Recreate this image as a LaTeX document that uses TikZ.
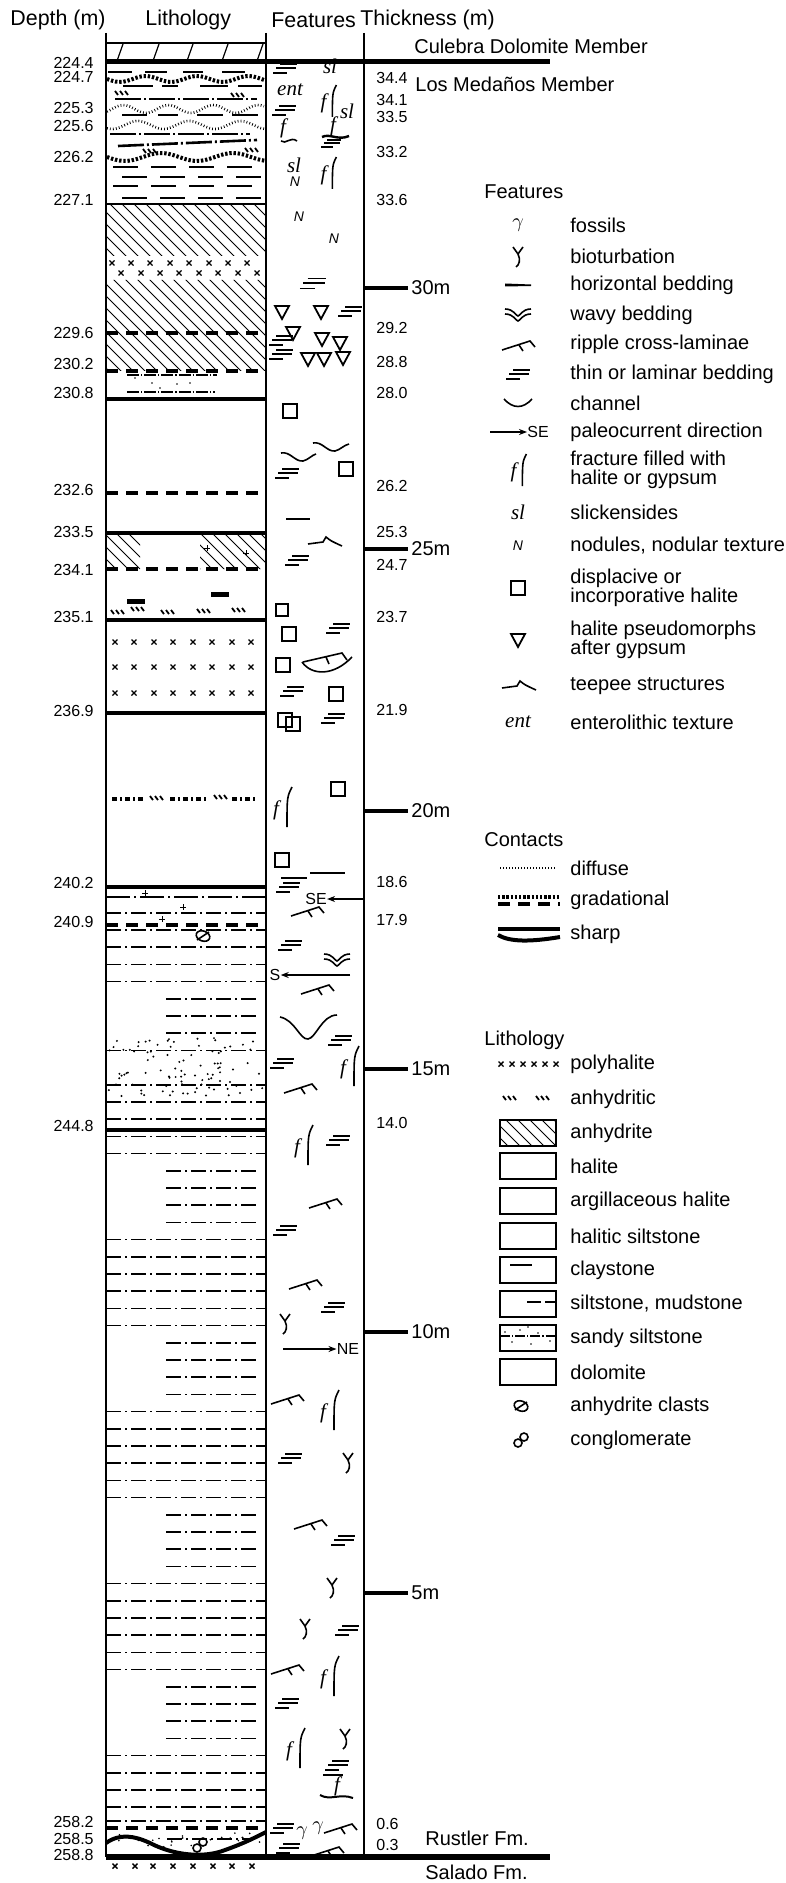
\documentclass[tikz,border=0pt]{standalone}
\usepackage{fontspec}
\setmainfont{Liberation Sans}
\newfontfamily\symfont{Liberation Serif}
\usetikzlibrary{arrows.meta}

\begin{document}
\begin{tikzpicture}[x=0.5pt,y=-0.5pt,
		lbl/.style={anchor=east,inner sep=0pt,font=\fontsize{8}{9}\selectfont},
		thk/.style={anchor=west,inner sep=0pt,font=\fontsize{8}{9}\selectfont},
		txt/.style={anchor=west,inner sep=0pt,align=left,font=\fontsize{10}{9.6}\selectfont},
		hdr/.style={anchor=west,inner sep=0pt,font=\fontsize{10.7}{12}\selectfont},
		sym/.style={inner sep=0pt,font=\symfont\itshape\fontsize{10.5}{11}\selectfont},
		nod/.style={inner sep=0pt,font=\itshape\fontsize{7}{8}\selectfont},
		dir/.style={inner sep=0pt,font=\fontsize{8}{9}\selectfont},
		sharpln/.style={line width=1.6pt},
		gradln/.style={line width=1.7pt,dash pattern=on 6pt off 4pt},
		gradwave/.style={line width=2pt,dash pattern=on 1.2pt off 0.9pt},
		diffwave/.style={line width=1.3pt,dash pattern=on 0.4pt off 1.1pt},
		siltln/.style={line width=0.8pt,dash pattern=on 7.5pt off 2pt on 1pt off 2pt},
		hatch/.style={line width=0.5pt},
		symln/.style={line width=0.8pt},
		thinbed/.pic={\draw[line width=0.9pt] (-5,-4)--(12,-4) (-9,0)--(11,0) (-12,5)--(2,5);},
		ripple/.pic={\draw[symln] (-16,6)--(12,-3)--(17,3) (1,1)--(5,7);},
		teepee/.pic={\draw[symln] (-18,2)--(-3,0)--(0,-5) .. controls (5,-1) .. (16,4);},
		channel/.pic={\draw[symln] (-14,-4) .. controls (-5,6) and (5,6) .. (14,-4);},
		wavybed/.pic={\draw[symln] (-13,-6) .. controls (-4,-6) and (-2,1) .. (0,1) .. controls (2,1) and (4,-6) .. (13,-6) (-13,-1) .. controls (-4,-1) and (-2,6) .. (0,6) .. controls (2,6) and (4,-1) .. (13,-1);},
		bioturb/.pic={\draw[symln] (-5,-9)--(0,-2)--(5,-9) (0,-2) .. controls (3,4) and (1,9) .. (-2,11);},
		fracture/.pic={\node[sym] at (-8,3) {f}; \draw[symln] (8,-20) .. controls (3,-10) .. (3,20);},
		halbox/.pic={\draw[line width=1pt] (-7,-7) rectangle (7,7);},
		pseudo/.pic={\draw[line width=0.9pt] (-7,-6)--(7,-6)--(0,7)--cycle;},
		fossil/.pic={\node[inner sep=0pt,font=\fontsize{10}{10}\selectfont] {$\gamma$};},
		horbed/.pic={\fill (-13,-1.5) -- (13,-0.5) -- (13,1) -- (-13,1.5) -- cycle;},
		polyx/.pic={\draw[line width=0.7pt] (-2.5,-2.5)--(2.5,2.5) (-2.5,2.5)--(2.5,-2.5);},
		anhy/.pic={\draw[line width=0.9pt] (-7,-2)--(-4,2) (-2,-2)--(1,2) (3,-2)--(6,2);},
		clast/.pic={\draw[symln,rotate=-20] (0,0) ellipse (7 and 5); \draw[symln] (-6,4)--(6,-4);},
		conglom/.pic={\draw[symln] (-3,3) circle (4) (3,-3) circle (4);},
		plusm/.pic={\draw[line width=0.5pt] (-3,0)--(3,0) (0,-3)--(0,3);}
	]
		\useasboundingbox (0,0) rectangle (786,1883);
		\node[hdr] (hdepth) at (10,20) {Depth (m)};
		\node[hdr] (hlith) at (145,20) {Lithology};
		\node[hdr] (hfeat) at (271,20) {Features};
		\node[hdr] (hthick) at (360,20) {Thickness (m)};
		\draw[line width=1pt] (106,33) -- (106,1857) (266,33) -- (266,1857);
		\draw[line width=0.8pt] (364,33) -- (364,1857);

		\draw[line width=0.8pt] (106,43) -- (266,43);
		\foreach \x in {117,153,187,222,257} \draw[line width=0.6pt] (\x,61) -- ++(6,-17);
		\draw[line width=2.5pt] (106,62) -- (550,62);
		\node[txt] (culebra) at (414,46) {Culebra Dolomite Member};
		\node[txt] (medanos) at (415,84) {Los Medaños Member};

		\draw[line width=1.4pt] (108,72)--(132,72) (145,72)--(167,72) (183,72)--(203,72) (222,72)--(245,72);
		\draw[gradwave] plot[domain=107:265,samples=40] (\x,{79+3*sin((\x-107)*7)});
		\draw[line width=1.4pt] (123,86)--(153,86) (162,86)--(178,86) (200,86)--(228,86) (238,86)--(262,86);
		\pic at (122,93) {anhy};
		\pic at (238,95) {anhy};
		\draw[line width=1.3pt,dash pattern=on 13pt off 1.5pt on 1pt off 1.5pt] (115,99) -- (257,99);
		\draw[diffwave] plot[domain=107:264,samples=50] (\x,{109-4*sin((\x-112)*8)});
		\draw[line width=1.4pt] (122,115)--(147,115) (158,115)--(178,115) (197,115)--(223,115) (232,115)--(258,115);
		\draw[diffwave] plot[domain=107:264,samples=50] (\x,{125-4*sin((\x-125)*7)});
		\draw[line width=1.3pt,dash pattern=on 13pt off 1.5pt on 1pt off 1.5pt] (110,134) -- (250,134);
		\draw[line width=1.3pt,dash pattern=on 13pt off 1.5pt on 1pt off 1.5pt] (118,146) -- (257,140);
		\pic at (150,151) {anhy};
		\pic at (252,150) {anhy};
		\draw[gradwave] plot[domain=107:265,samples=40] (\x,{157+4*sin((\x-107)*5)});
		\foreach \y/\o in {167/0,177/1,186/0,198/1}
			\foreach \x in {0,1,2,3} \draw[line width=1.4pt] ({113+\x*38+\o*9},\y) -- ++(25,0);
		\draw[line width=0.8pt] (106,204) -- (266,204);

		\begin{scope}
			\clip (106,204) rectangle (266,256) (106,280) rectangle (266,371);
			\foreach \i in {0,...,28} \draw[hatch] ({\i*12-70},204) -- ++(170,170);
		\end{scope}
		\foreach \x in {112,131,150,170,189,209,228,247} \pic at (\x,263) {polyx};
		\foreach \x in {121,141,160,179,199,218,238,257} \pic at (\x,273) {polyx};
		\draw[gradln] (106,333) -- (266,333);
		\draw[gradln] (106,371) -- (266,371);
		\draw[line width=0.7pt,dash pattern=on 6pt off 1pt on 0.6pt off 1pt] (127,375) -- (217,375) (127,392) -- (215,392);
		\foreach \x/\y in {135/378,152/383,177/384,190/383,160/388} \fill (\x,\y) circle (0.8);
		\draw[sharpln] (106,399) -- (266,399);
		\draw[gradln] (106,493) -- (266,493);
		\draw[sharpln] (106,533) -- (266,533);
		\begin{scope}
			\clip (106,533) rectangle (140,569) (200,533) rectangle (266,569);
			\foreach \i in {0,...,26} \draw[hatch] ({\i*12-40},533) -- ++(40,40);
		\end{scope}
		\pic at (207,548) {plusm};
		\pic at (246,553) {plusm};
		\draw[gradln] (106,569) -- (266,569);
		\draw[line width=2.5pt] (127,601) -- (145,601) (211,594) -- (229,594);
		\foreach \x/\y in {118/612,138/609,168/612,204/611,239/610} \pic at (\x,\y) {anhy};
		\draw[sharpln] (106,620) -- (266,620);
		\foreach \y in {642,667,693}
			\foreach \x in {115,134,154,173,193,212,232,251} \pic at (\x,\y) {polyx};
		\draw[sharpln] (106,713) -- (266,713);
		\draw[line width=1.6pt,dash pattern=on 2.5pt off 1.5pt on 1pt off 1.5pt] (112,799) -- (145,799) (170,799) -- (208,799) (232,799) -- (258,799);
		\pic at (157,798) {anhy};
		\pic at (221,797) {anhy};
		\draw[sharpln] (106,887) -- (266,887);

		\draw[line width=0.6pt,dash pattern=on 12pt off 2pt on 1pt off 2pt] (106,897) -- (266,897);
		\draw[siltln] (106,913) -- (266,913);
		\draw[gradln] (106,925) -- (266,925);
		\pic at (145,893) {plusm};
		\pic at (183,907) {plusm};
		\pic at (162,919) {plusm};
		\pic at (203,936) {clast};
		\foreach \k in {0,1,2,3,7,9,10,11,12,13,18,19,20,21,22,23,28,29,30,31,32,33,38,39,40,41,42,43,48,49,50,51}
			\draw[siltln] (106,{930+17.2*\k}) -- (266,{930+17.2*\k});
		\foreach \k in {4,5,6,14,15,16,17,24,25,26,27,34,35,36,37,44,45,46,47}
			\draw[siltln] (166,{930+17.2*\k}) -- (256,{930+17.2*\k});
		\pgfmathsetseed{5}
		\foreach \i in {1,...,95} \fill ({108+156*rnd},{1038+58*rnd}) circle (1.1);
		\draw[sharpln] (106,1130) -- (266,1130);

		\draw[siltln] (106,1821) -- (266,1821);
		\draw[gradln] (106,1828) -- (266,1828);
		\draw[siltln] (167,1839) -- (250,1839);
		\pgfmathsetseed{9}
		\foreach \i in {1,...,25} \fill ({110+150*rnd},{1833+14*rnd}) circle (0.9);
		\draw[line width=2pt] (106,1843) .. controls (120,1833) and (135,1836) .. (150,1843) .. controls (175,1856) and (205,1858) .. (225,1850) .. controls (245,1843) and (258,1836) .. (266,1832);
		\pic at (200,1845) {conglom};
		\draw[line width=2.8pt] (106,1857) -- (550,1857);
		\foreach \x in {115,135,153,173,193,213,232,252} \pic at (\x,1866) {polyx};
		\node[txt] (rustler) at (425,1838) {Rustler Fm.};
		\node[txt] (salado) at (425,1872) {Salado Fm.};

		\foreach \t/\y [count=\n] in {224.4/63,224.7/77,225.3/108,225.6/126,226.2/157,227.1/200,229.6/333,230.2/364,230.8/393,232.6/490,233.5/532,234.1/570,235.1/617,236.9/711,240.2/883,240.9/922,244.8/1126,258.2/1822,258.5/1839,258.8/1855}
			\node[lbl] (dep\n) at (94,\y) {\t};
		\foreach \t/\y [count=\n] in {34.4/78,34.1/100,33.5/117,33.2/152,33.6/200,29.2/328,28.8/362,28.0/393,26.2/486,25.3/532,24.7/565,23.7/617,21.9/710,18.6/882,17.9/920,14.0/1123,0.6/1824,0.3/1845}
			\node[thk] (thk\n) at (376,\y) {\t};
		\foreach \m/\y in {30/288,25/549,20/811,15/1069,10/1332,5/1593} {
			\draw[line width=2pt] (364,\y) -- (408,\y);
			\node[txt] (scale\m) at (411,\y) {\m m};
		}

		\pic at (285,68) {thinbed};
		\node[sym] (sl1) at (330,66) {sl};
		\node[sym] (ent1) at (290,90) {ent};
		\pic[scale=0.8] at (330,101) {fracture};
		\node[sym] (sl2) at (347,111) {sl};
		\pic at (284,110) {thinbed};
		\node[sym] (f1) at (283,128) {f};
		\draw[symln] (281,141) .. controls (286,145) and (290,136) .. (297,141);
		\node[sym] (f2) at (333,126) {f};
		\draw[line width=1.2pt] (322,137) .. controls (330,133) and (338,141) .. (349,136);
		\pic[scale=0.8] at (331,143) {thinbed};
		\node[sym] (sl3) at (294,165) {sl};
		\node[nod] (n1) at (295,182) {N};
		\pic[scale=0.8] at (330,173) {fracture};
		\node[nod] (n2) at (299,217) {N};
		\node[nod] (n3) at (334,239) {N};

		\pic[scale=1.1] at (313,283) {thinbed};
		\foreach \x/\y in {282/312,321/312,293/333,322/339,340/343,308/359,324/359,343/358} \pic at (\x,\y) {pseudo};
		\pic at (350,311) {thinbed};
		\pic at (281,340) {thinbed};
		\pic at (281,354) {thinbed};
		\pic at (290,411) {halbox};
		\draw[symln] (281,453) .. controls (290,451) and (295,462) .. (303,461) .. controls (308,460) and (312,455) .. (316,454);
		\draw[symln] (313,443) .. controls (322,441) and (327,452) .. (335,451) .. controls (340,450) and (344,445) .. (349,444);
		\pic at (287,473) {thinbed};
		\pic at (346,469) {halbox};
		\draw[symln] (286,519) -- (310,519);
		\pic at (326,542) {teepee};
		\pic at (297,560) {thinbed};
		\pic[scale=0.8] at (282,610) {halbox};
		\foreach \x/\y in {289/634,283/665,336/694,285/720,293/724,338/789,282/860} \pic at (\x,\y) {halbox};
		\foreach \x/\y in {338/628,292/691,333/718,288/887} \pic at (\x,\y) {thinbed};
		\draw[symln] (302,662) .. controls (312,676) and (334,676) .. (352,657);
		\draw[symln] (303,662) -- (342,653) -- (347,660) (326,657) -- (329,664);
		\pic at (284,807) {fracture};
		\draw[symln] (281,878) -- (307,878) (310,873) -- (345,873);
		\node[dir] (se) at (316,899) {SE};
		\coordinate (seTail) at (363,899);
		\draw[symln,-{Stealth[length=4pt,width=3pt]}] (seTail) -- (se);
		\pic at (307,910) {ripple};

		\pic at (290,945) {thinbed};
		\pic at (337,960) {wavybed};
		\node[dir] (s) at (275,975) {S};
		\coordinate (sTail) at (350,975);
		\draw[symln,-{Stealth[length=4pt,width=3pt]}] (sTail) -- (s);
		\pic at (317,988) {ripple};
		\draw[symln] (280,1017) .. controls (295,1020) and (300,1040) .. (308,1039) .. controls (316,1038) and (322,1015) .. (337,1015);
		\pic at (340,1040) {thinbed};
		\pic at (351,1066) {fracture};
		\pic at (282,1063) {thinbed};
		\pic at (300,1087) {ripple};
		\pic at (305,1145) {fracture};
		\pic at (338,1140) {thinbed};
		\pic at (325,1202) {ripple};
		\pic at (285,1230) {thinbed};
		\pic at (305,1283) {ripple};
		\pic at (333,1307) {thinbed};
		\pic at (285,1323) {bioturb};
		\coordinate (neTail) at (283,1349);
		\node[dir] (ne) at (348,1349) {NE};
		\draw[symln,-{Stealth[length=4pt,width=3pt]}] (neTail) -- (ne);
		\pic at (287,1398) {ripple};
		\pic at (331,1410) {fracture};
		\pic at (290,1458) {thinbed};
		\pic at (348,1462) {bioturb};
		\pic at (310,1523) {ripple};
		\pic at (343,1540) {thinbed};
		\pic at (332,1587) {bioturb};
		\pic at (305,1628) {bioturb};
		\pic at (347,1630) {thinbed};
		\pic at (287,1668) {ripple};
		\pic at (331,1676) {fracture};
		\pic at (287,1703) {thinbed};
		\pic at (297,1748) {fracture};
		\pic at (345,1738) {bioturb};
		\pic at (337,1765) {thinbed};
		\draw[symln] (323,1775) -- (343,1775);
		\node[sym] (f3) at (337,1786) {f};
		\draw[line width=1pt] (320,1795) .. controls (330,1801) and (340,1793) .. (353,1798);
		\pic at (282,1828) {thinbed};
		\pic at (302,1833) {fossil};
		\pic at (318,1828) {fossil};
		\pic at (340,1827) {ripple};
		\pic at (288,1848) {thinbed};
		\pic at (327,1850) {ripple};

		\node[txt] (lgfeat) at (484,192) {Features};
		\pic at (518,225) {fossil};
		\pic at (518,256) {bioturb};
		\pic at (518,285) {horbed};
		\pic at (518,315) {wavybed};
		\pic at (518,344) {ripple};
		\pic at (518,374) {thinbed};
		\pic at (518,403) {channel};
		\coordinate (lgTail) at (490,432);
		\node[dir,anchor=west] (lgse) at (527,432) {SE};
		\draw[symln,-{Stealth[length=4pt,width=3pt]}] (lgTail) -- (lgse);
		\pic[scale=0.8] at (520,470) {fracture};
		\node[sym] (lgsl) at (518,512) {sl};
		\node[nod] (lgn) at (518,546) {N};
		\pic at (518,588) {halbox};
		\pic at (518,640) {pseudo};
		\pic at (520,686) {teepee};
		\node[sym] (lgent) at (518,722) {ent};
		\foreach \t/\y [count=\n] in {fossils/225,bioturbation/256,horizontal bedding/285,wavy bedding/315,ripple cross-laminae/344,thin or laminar bedding/374,channel/403,paleocurrent direction/432,{fracture filled with\\halite or gypsum}/470,slickensides/512,{nodules, nodular texture}/546,{displacive or\\incorporative halite}/588,{halite pseudomorphs\\after gypsum}/640,teepee structures/686,enterolithic texture/722}
			\node[txt] (ft\n) at (570,\y) {\t};

		\node[txt] (lgcont) at (484,840) {Contacts};
		\draw[diffwave] (500,868) -- (555,868);
		\draw[gradwave] (498,897) -- (560,897);
		\draw[gradln] (498,904) -- (560,904);
		\draw[line width=2pt] (498,929) -- (560,929);
		\draw[line width=2pt] (498,935) .. controls (510,942) and (530,942) .. (560,937);
		\foreach \t/\y [count=\n] in {diffuse/868,gradational/900,sharp/934}
			\node[txt] (ct\n) at (570,\y) {\t};

		\node[txt] (lglith) at (484,1040) {Lithology};
		\foreach \x in {501,512,523,534,545,556} \pic at (\x,1064) {polyx};
		\pic at (510,1098) {anhy};
		\pic at (543,1098) {anhy};
		\foreach \y in {1133,1166,1201,1236,1270,1304,1338,1372} \draw[line width=0.8pt] (500,\y-13) rectangle (556,\y+13);
		\begin{scope}
			\clip (500,1120) rectangle (556,1146);
			\foreach \i in {0,...,7} \draw[hatch] ({\i*12+470},1120) -- ++(30,30);
		\end{scope}
		\draw[line width=0.8pt] (510,1265) -- (532,1265);
		\draw[line width=0.8pt] (527,1302) -- (541,1302) (545,1302) -- (556,1302);
		\draw[line width=0.6pt,dash pattern=on 5pt off 1pt on 0.6pt off 1pt] (500,1336) -- (556,1336);
		\foreach \x/\y in {505/1332,512/1342,520/1330,531/1344,538/1333,550/1341,528/1327} \fill (\x,\y) circle (0.8);
		\pic at (521,1406) {clast};
		\pic at (521,1440) {conglom};
		\foreach \t/\y [count=\n] in {polyhalite/1064,anhydritic/1099,anhydrite/1133,halite/1166,argillaceous halite/1201,halitic siltstone/1236,claystone/1270,{siltstone, mudstone}/1304,sandy siltstone/1338,dolomite/1372,anhydrite clasts/1406,conglomerate/1440}
			\node[txt] (lt\n) at (570,\y) {\t};
	\end{tikzpicture}
\end{document}
